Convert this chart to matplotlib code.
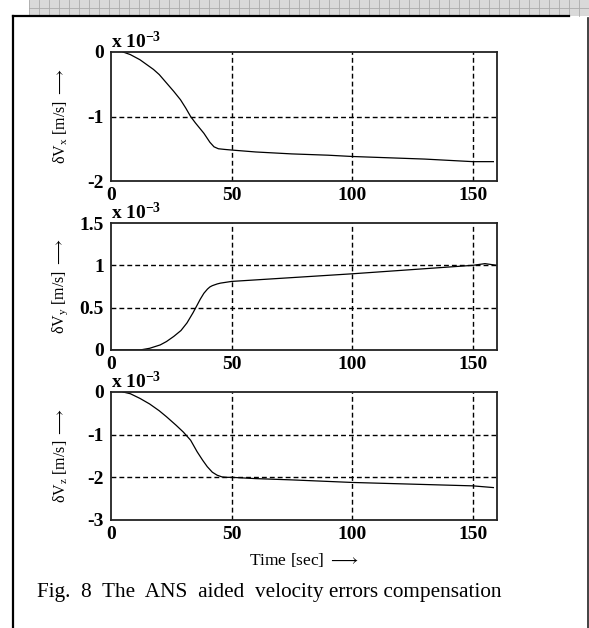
import numpy as np
import matplotlib
matplotlib.use('Agg')
import matplotlib.pyplot as plt
from matplotlib.patches import Rectangle
from matplotlib.lines import Line2D

# Data (values in units of 1e-3 m/s)
t_x = [5, 8, 12, 17.6, 20, 23, 26, 28.8, 31, 33, 35, 38.5, 41, 42.7, 44.5, 47, 50,
       60, 75, 90, 100, 115, 130, 145, 150, 158.5]
dvx = [0, -0.04, -0.12, -0.27, -0.35, -0.48, -0.61, -0.74, -0.87, -1.0, -1.1, -1.26, -1.4,
       -1.47, -1.50, -1.51, -1.52, -1.55, -1.58, -1.60, -1.62, -1.64, -1.66, -1.69, -1.70, -1.70]

t_y = [0, 12, 16, 20.4, 23, 26, 29, 31.5, 34, 35.7, 37, 38.5, 40, 41, 42, 44, 45.4, 50,
       75, 100, 125, 150, 155, 160]
dvy = [0, 0, 0.02, 0.06, 0.1, 0.16, 0.23, 0.32, 0.44, 0.53, 0.6, 0.67, 0.72, 0.745, 0.76,
       0.78, 0.79, 0.81, 0.855, 0.9, 0.95, 1.0, 1.02, 1.0]

t_z = [5, 8, 12, 16, 20, 23, 27, 30, 33, 35.7, 38, 39.9, 42, 44, 46, 48, 50,
       60, 75, 100, 125, 150, 158.5]
dvz = [0, -0.04, -0.15, -0.28, -0.44, -0.58, -0.78, -0.94, -1.13, -1.4, -1.6, -1.75, -1.88,
       -1.95, -1.99, -2.0, -2.0, -2.03, -2.06, -2.12, -2.16, -2.2, -2.24]

x_ticks = [0, 50, 100, 150]
panels = [
    (t_x, dvx, (-2, 0), [-2, -1, 0], ['-2', '-1', '0'], 'x'),
    (t_y, dvy, (0, 1.5), [0, 0.5, 1, 1.5], ['0', '0.5', '1', '1.5'], 'y'),
    (t_z, dvz, (-3, 0), [-3, -2, -1, 0], ['-3', '-2', '-1', '0'], 'z'),
]

plt.rcParams.update({
    'font.family': ['Liberation Serif', 'DejaVu Serif'],
    'mathtext.fontset': 'custom',
    'mathtext.rm': 'Liberation Serif',
    'mathtext.bf': 'Liberation Serif:bold',
    'mathtext.it': 'Liberation Serif:italic',
})

W, H = 589, 628
fig = plt.figure(figsize=(W / 100, H / 100), dpi=100)

# page decoration: hatched band and frame
band_l, band_h = 29, 16
fig.add_artist(Rectangle((band_l / W, 1 - band_h / H), 1 - band_l / W, band_h / H,
                         transform=fig.transFigure, facecolor='#d9d9d9', edgecolor='none'))
for px in range(band_l, W, 10):
    fig.add_artist(Line2D([px / W, px / W], [1 - band_h / H, 1], transform=fig.transFigure,
                          color='#ababab', lw=0.6))
fig.add_artist(Line2D([band_l / W, 1], [1 - 8 / H, 1 - 8 / H], transform=fig.transFigure,
                      color='#ababab', lw=0.6))
fig.add_artist(Line2D([13 / W, 13 / W], [0, 1 - 16 / H], transform=fig.transFigure,
                      color='black', lw=1.6))
fig.add_artist(Line2D([13 / W, 569 / W], [1 - 16 / H, 1 - 16 / H], transform=fig.transFigure,
                      color='black', lw=1.6))
fig.add_artist(Line2D([587.5 / W, 587.5 / W], [0, 1 - 18 / H], transform=fig.transFigure,
                      color='#222222', lw=1.2))

# axes boxes in pixels: (top, bottom)
left_px, right_px = 111, 497
boxes = [(52, 181), (223, 350), (392, 520)]

for (t, v, ylim, yt, ytl, comp), (top, bot) in zip(panels, boxes):
    ax = fig.add_axes([left_px / W, (H - bot) / H, (right_px - left_px) / W, (bot - top) / H])
    ax.plot(t, v, color='black', lw=0.9)
    ax.set_xlim(0, 160)
    ax.set_ylim(*ylim)
    ax.set_xticks(x_ticks)
    ax.set_xticklabels([str(x) for x in x_ticks])
    ax.set_yticks(yt)
    ax.set_yticklabels(ytl)
    ax.tick_params(length=0, labelsize=14)
    ax.tick_params(axis='x', pad=4)
    ax.tick_params(axis='y', pad=5)
    for lab in ax.get_xticklabels() + ax.get_yticklabels():
        lab.set_fontweight('bold')
    for xv in x_ticks[1:]:
        ax.axvline(xv, color='black', lw=1.0, ls=(0, (3.5, 2.2)))
    for yv in yt[1:-1]:
        ax.axhline(yv, color='black', lw=1.0, ls=(0, (3.5, 2.2)))
    for s in ax.spines.values():
        s.set_linewidth(1.3)
        s.set_color('#222222')
    ax.text(0.0, 1.0, r'$\mathbf{x\ 10^{-3}}$', transform=ax.transAxes,
            ha='left', va='bottom', fontsize=14)
    ax.set_ylabel('δV$_\\mathrm{%s}$ [m/s] $\\longrightarrow$' % comp, fontsize=11.5)
    ax.yaxis.set_label_coords(-0.105, 0.5)
    if comp == 'z':
        ax.set_xlabel('Time [sec] $\\longrightarrow$', fontsize=12.5, labelpad=6)

fig.text(37 / W, 1 - 593 / H, 'Fig.  8  The  ANS  aided  velocity errors compensation',
         ha='left', va='center', fontsize=15.3)

fig.savefig('out.png', dpi=100)
